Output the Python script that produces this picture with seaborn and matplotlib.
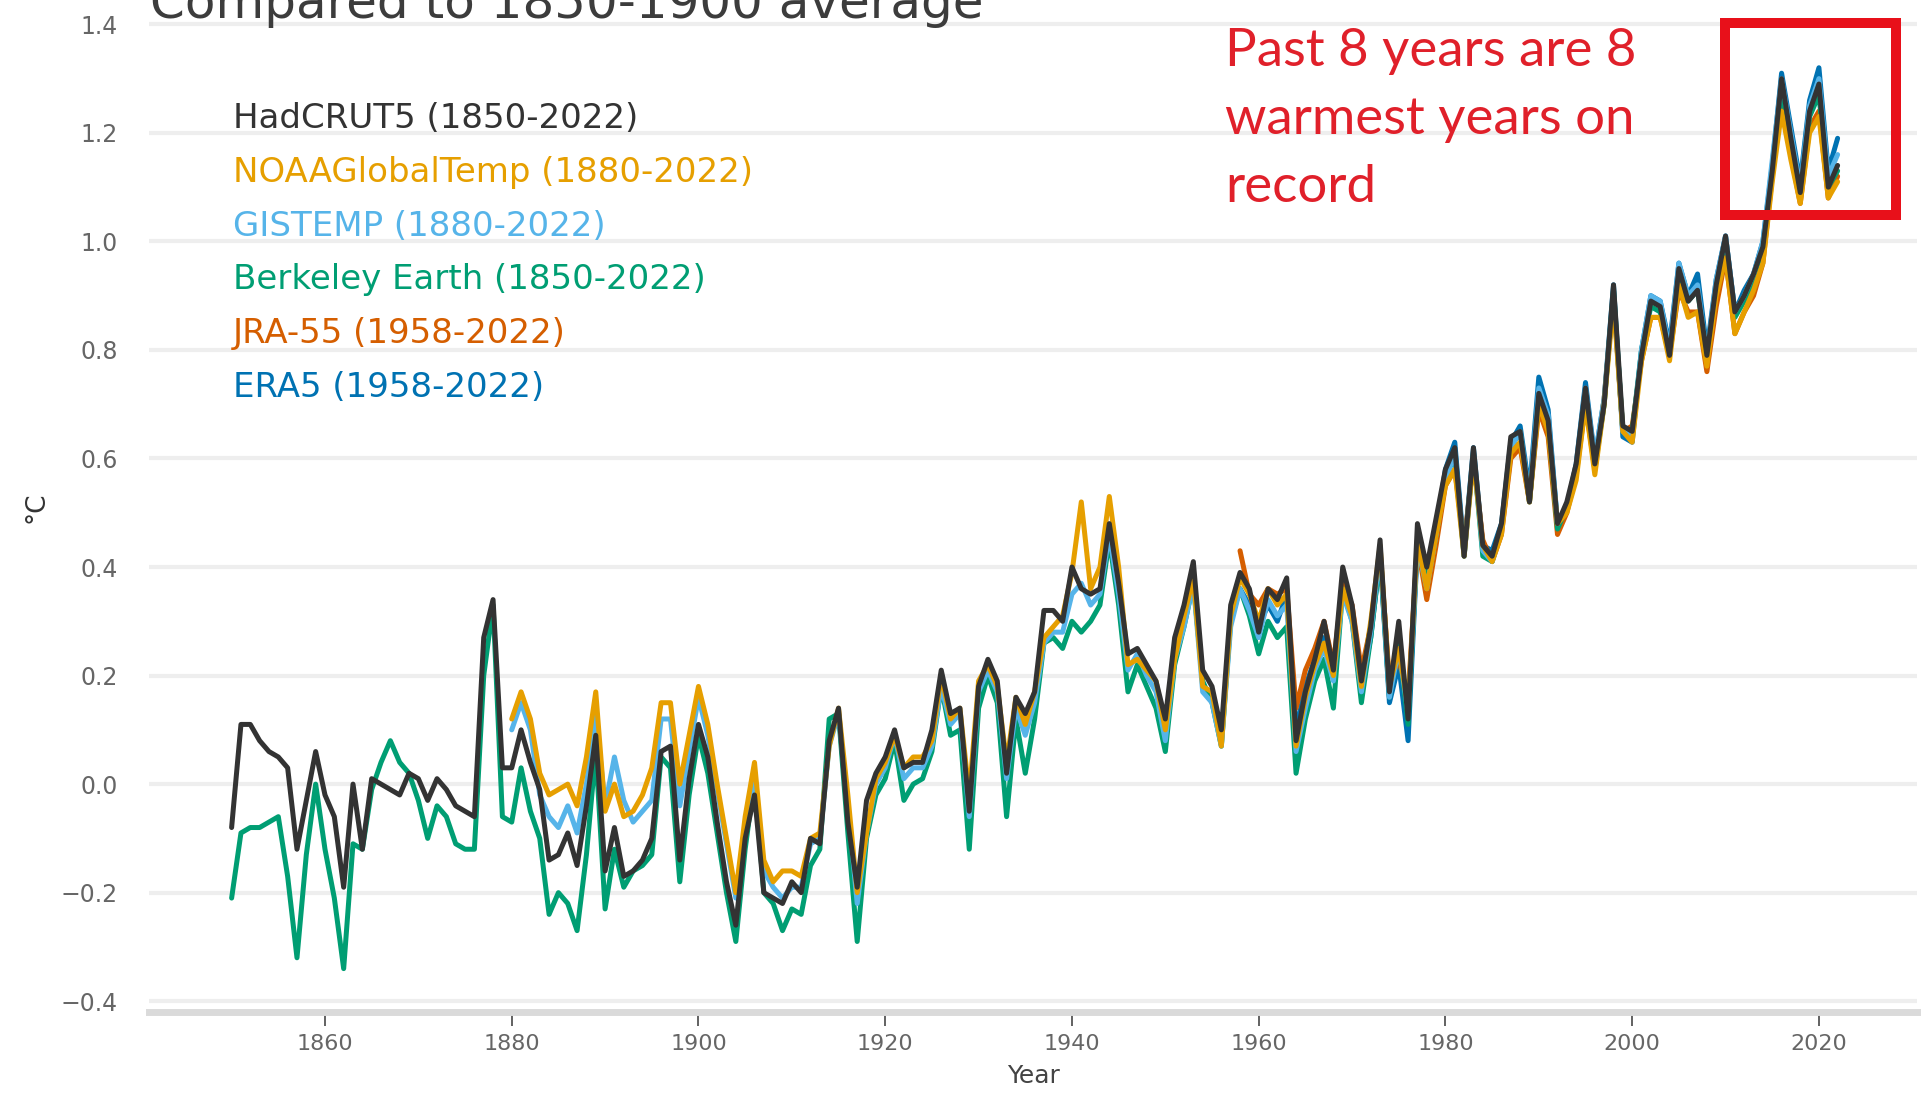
import numpy as np
import pandas as pd
import seaborn as sns
import matplotlib.pyplot as plt
from matplotlib.patches import Rectangle
from matplotlib.ticker import MultipleLocator

# annual anomalies (deg C) relative to 1850-1900
years_1850 = list(range(1850, 2023))
years_1880 = list(range(1880, 2023))
years_1958 = list(range(1958, 2023))

hadcrut5 = [
    -0.08, 0.11, 0.11, 0.08, 0.06, 0.05, 0.03, -0.12, -0.03, 0.06,
    -0.02, -0.06, -0.19, 0.00, -0.12, 0.01, 0.00, -0.01, -0.02, 0.02,
    0.01, -0.03, 0.01, -0.01, -0.04, -0.05, -0.06, 0.27, 0.34, 0.03,
    0.03, 0.10, 0.04, -0.01, -0.14, -0.13, -0.09, -0.15, -0.04, 0.09,
    -0.16, -0.08, -0.17, -0.16, -0.14, -0.10, 0.06, 0.07, -0.14, 0.01,
    0.11, 0.05, -0.07, -0.18, -0.26, -0.10, -0.02, -0.20, -0.21, -0.22,
    -0.18, -0.20, -0.10, -0.11, 0.08, 0.14, -0.07, -0.19, -0.03, 0.02,
    0.05, 0.10, 0.03, 0.04, 0.04, 0.10, 0.21, 0.13, 0.14, -0.05,
    0.18, 0.23, 0.19, 0.02, 0.16, 0.13, 0.17, 0.32, 0.32, 0.30,
    0.40, 0.36, 0.35, 0.36, 0.48, 0.37, 0.24, 0.25, 0.22, 0.19,
    0.12, 0.27, 0.33, 0.41, 0.21, 0.18, 0.10, 0.33, 0.39, 0.36,
    0.28, 0.36, 0.34, 0.38, 0.08, 0.17, 0.23, 0.30, 0.21, 0.40,
    0.33, 0.19, 0.29, 0.45, 0.17, 0.30, 0.12, 0.48, 0.40, 0.49,
    0.58, 0.62, 0.42, 0.62, 0.44, 0.42, 0.48, 0.64, 0.65, 0.52,
    0.72, 0.67, 0.48, 0.52, 0.59, 0.73, 0.59, 0.70, 0.92, 0.66,
    0.65, 0.79, 0.89, 0.88, 0.79, 0.95, 0.89, 0.91, 0.79, 0.92,
    1.01, 0.87, 0.90, 0.94, 0.99, 1.13, 1.30, 1.19, 1.09, 1.24,
    1.29, 1.10, 1.14]

berkeley = [
    -0.21, -0.09, -0.08, -0.08, -0.07, -0.06, -0.17, -0.32, -0.13, 0.00,
    -0.12, -0.21, -0.34, -0.11, -0.12, -0.01, 0.04, 0.08, 0.04, 0.02,
    -0.03, -0.10, -0.04, -0.06, -0.11, -0.12, -0.12, 0.20, 0.33, -0.06,
    -0.07, 0.03, -0.05, -0.10, -0.24, -0.20, -0.22, -0.27, -0.13, 0.06,
    -0.23, -0.12, -0.19, -0.16, -0.15, -0.13, 0.05, 0.03, -0.18, -0.02,
    0.09, 0.02, -0.09, -0.20, -0.29, -0.12, 0.01, -0.20, -0.22, -0.27,
    -0.23, -0.24, -0.15, -0.12, 0.12, 0.13, -0.09, -0.29, -0.10, -0.02,
    0.01, 0.08, -0.03, 0.00, 0.01, 0.06, 0.18, 0.09, 0.10, -0.12,
    0.14, 0.20, 0.15, -0.06, 0.12, 0.02, 0.12, 0.26, 0.27, 0.25,
    0.30, 0.28, 0.30, 0.33, 0.45, 0.33, 0.17, 0.22, 0.18, 0.14,
    0.06, 0.22, 0.29, 0.37, 0.19, 0.15, 0.07, 0.30, 0.36, 0.31,
    0.24, 0.30, 0.27, 0.29, 0.02, 0.12, 0.19, 0.23, 0.14, 0.36,
    0.30, 0.15, 0.27, 0.42, 0.16, 0.26, 0.11, 0.45, 0.37, 0.46,
    0.57, 0.60, 0.42, 0.61, 0.42, 0.41, 0.47, 0.62, 0.65, 0.52,
    0.71, 0.66, 0.47, 0.51, 0.58, 0.72, 0.58, 0.70, 0.91, 0.65,
    0.65, 0.80, 0.88, 0.87, 0.79, 0.94, 0.89, 0.91, 0.79, 0.91,
    1.00, 0.86, 0.89, 0.93, 0.99, 1.13, 1.28, 1.18, 1.09, 1.23,
    1.27, 1.10, 1.13]

noaa = [
    0.12, 0.17, 0.12, 0.02, -0.02, -0.01, 0.00, -0.04, 0.05, 0.17,
    -0.05, 0.00, -0.06, -0.05, -0.02, 0.03, 0.15, 0.15, 0.00, 0.09,
    0.18, 0.11, 0.00, -0.10, -0.20, -0.06, 0.04, -0.14, -0.18, -0.16,
    -0.16, -0.17, -0.10, -0.09, 0.07, 0.14, -0.02, -0.20, -0.09, 0.01,
    0.04, 0.09, 0.03, 0.05, 0.05, 0.08, 0.20, 0.12, 0.14, -0.02,
    0.19, 0.22, 0.18, 0.04, 0.16, 0.11, 0.17, 0.27, 0.29, 0.31,
    0.39, 0.52, 0.36, 0.40, 0.53, 0.40, 0.22, 0.23, 0.21, 0.19,
    0.10, 0.23, 0.31, 0.38, 0.18, 0.17, 0.07, 0.31, 0.38, 0.35,
    0.30, 0.36, 0.33, 0.35, 0.07, 0.16, 0.22, 0.26, 0.20, 0.36,
    0.31, 0.18, 0.30, 0.44, 0.18, 0.25, 0.14, 0.45, 0.36, 0.46,
    0.55, 0.58, 0.42, 0.60, 0.44, 0.41, 0.46, 0.61, 0.63, 0.52,
    0.70, 0.65, 0.48, 0.50, 0.56, 0.70, 0.57, 0.70, 0.89, 0.65,
    0.63, 0.78, 0.86, 0.86, 0.78, 0.92, 0.86, 0.87, 0.77, 0.90,
    0.97, 0.83, 0.87, 0.91, 0.96, 1.11, 1.24, 1.15, 1.07, 1.20,
    1.23, 1.08, 1.11]

gistemp = [
    0.10, 0.15, 0.10, -0.02, -0.06, -0.08, -0.04, -0.09, 0.00, 0.13,
    -0.04, 0.05, -0.03, -0.07, -0.05, -0.03, 0.12, 0.12, -0.04, 0.06,
    0.16, 0.09, -0.01, -0.11, -0.21, -0.08, 0.02, -0.16, -0.19, -0.21,
    -0.19, -0.19, -0.11, -0.10, 0.07, 0.13, -0.04, -0.22, -0.09, 0.00,
    0.03, 0.09, 0.01, 0.03, 0.03, 0.07, 0.18, 0.11, 0.13, -0.06,
    0.17, 0.21, 0.17, 0.01, 0.14, 0.09, 0.15, 0.26, 0.28, 0.28,
    0.35, 0.37, 0.33, 0.35, 0.46, 0.35, 0.21, 0.24, 0.20, 0.17,
    0.08, 0.23, 0.29, 0.37, 0.17, 0.15, 0.07, 0.29, 0.36, 0.32,
    0.27, 0.34, 0.31, 0.33, 0.06, 0.14, 0.21, 0.25, 0.19, 0.35,
    0.30, 0.17, 0.28, 0.43, 0.16, 0.25, 0.13, 0.44, 0.36, 0.46,
    0.56, 0.61, 0.42, 0.61, 0.43, 0.41, 0.47, 0.62, 0.65, 0.53,
    0.73, 0.68, 0.48, 0.51, 0.58, 0.73, 0.60, 0.71, 0.90, 0.65,
    0.64, 0.80, 0.90, 0.89, 0.80, 0.96, 0.90, 0.92, 0.79, 0.93,
    1.01, 0.87, 0.90, 0.94, 1.00, 1.15, 1.30, 1.20, 1.10, 1.25,
    1.30, 1.12, 1.16]

jra55 = [
    0.43, 0.35,
    0.33, 0.36, 0.35, 0.36, 0.14, 0.21, 0.25, 0.30, 0.22, 0.37,
    0.33, 0.21, 0.29, 0.43, 0.19, 0.23, 0.16, 0.44, 0.34, 0.44,
    0.55, 0.58, 0.44, 0.60, 0.45, 0.41, 0.46, 0.60, 0.62, 0.52,
    0.69, 0.64, 0.46, 0.50, 0.57, 0.70, 0.58, 0.71, 0.90, 0.65,
    0.66, 0.78, 0.86, 0.86, 0.79, 0.91, 0.87, 0.87, 0.76, 0.88,
    0.97, 0.83, 0.87, 0.90, 0.96, 1.12, 1.27, 1.16, 1.07, 1.21,
    1.24, 1.08, 1.12]

era5 = [
    0.36, 0.33,
    0.29, 0.33, 0.30, 0.35, 0.10, 0.18, 0.23, 0.27, 0.20, 0.36,
    0.31, 0.18, 0.27, 0.42, 0.15, 0.22, 0.08, 0.44, 0.38, 0.47,
    0.58, 0.63, 0.43, 0.62, 0.44, 0.43, 0.48, 0.63, 0.66, 0.54,
    0.75, 0.69, 0.48, 0.51, 0.59, 0.74, 0.60, 0.71, 0.92, 0.64,
    0.63, 0.80, 0.90, 0.89, 0.81, 0.96, 0.90, 0.94, 0.80, 0.93,
    1.01, 0.87, 0.91, 0.94, 1.00, 1.14, 1.31, 1.21, 1.11, 1.26,
    1.32, 1.13, 1.19]

# legend order, colours
labels = ['HadCRUT5 (1850-2022)', 'NOAAGlobalTemp (1880-2022)', 'GISTEMP (1880-2022)',
          'Berkeley Earth (1850-2022)', 'JRA-55 (1958-2022)', 'ERA5 (1958-2022)']
colors = ['#333333', '#E69F00', '#56B4E9', '#009E73', '#D55E00', '#0072B2']
series = [(years_1850, hadcrut5), (years_1880, noaa), (years_1880, gistemp),
          (years_1850, berkeley), (years_1958, jra55), (years_1958, era5)]
draw_order = [5, 4, 3, 2, 1, 0]

sns.set_theme(style='white')
plt.rcParams['font.family'] = ['DejaVu Sans']

fig = plt.figure(figsize=(19.21, 10.96), dpi=100)
ax = fig.add_axes([0.0778, 0.0766, 0.9201, 0.9210])

lines = {}
for i in draw_order:
    yrs, vals = series[i]
    df = pd.DataFrame({'Year': yrs, 'Anomaly': vals})
    sns.lineplot(data=df, x='Year', y='Anomaly', color=colors[i], linewidth=3.6,
                 label=labels[i], ax=ax)
    lines[i] = ax.lines[-1]

leg = ax.legend([lines[i] for i in range(6)], labels, loc='upper left',
                bbox_to_anchor=(233 / 1921, 1 - 102 / 1096), bbox_transform=fig.transFigure,
                frameon=False, handlelength=0, handletextpad=0, borderpad=0,
                borderaxespad=0, labelspacing=0.61, fontsize=24.5, labelcolor='linecolor')
for h in leg.legend_handles:
    h.set_visible(False)

ax.set_xlim(1841.2, 2030.5)
ax.set_ylim(-0.42, 1.44)
ax.yaxis.set_major_locator(MultipleLocator(0.2))
ax.set_xticks(range(1860, 2021, 20))

ax.yaxis.grid(True, color='#eeeeee', linewidth=3)
ax.xaxis.grid(False)
for s in ['top', 'right', 'left']:
    ax.spines[s].set_visible(False)
ax.spines['bottom'].set_color('#dadada')
ax.spines['bottom'].set_linewidth(5)

ax.tick_params(axis='x', which='major', bottom=True, direction='out', length=10, width=1.3,
               color='#555555', pad=6, labelsize=16, labelcolor='#666666')
ax.tick_params(axis='y', left=False, pad=17, labelsize=17, labelcolor='#666666')

ax.set_xlabel('Year', fontsize=18, color='#444444')
ax.xaxis.set_label_coords(0.5, -0.0634)
ax.xaxis.label.set_va('center')
ax.set_ylabel('°C', fontsize=19, color='#333333')
ax.yaxis.set_label_coords(-0.0637, 0.5)
ax.yaxis.label.set_va('center')

fig.text(149.5 / 1921, 1 - 18 / 1096, 'Compared to 1850-1900 average', fontsize=36,
         color='#3c3c3c', ha='left', va='baseline')

fig.text(1225 / 1921, 1 - 28 / 1096, 'Past 8 years are 8\nwarmest years on\nrecord',
         fontsize=38, family=['Lato', 'DejaVu Sans'], color='#e0202a', ha='left', va='top',
         linespacing=1.55)

ax.add_patch(Rectangle((2009.9, 1.048), 18.4, 0.354, fill=False, edgecolor='#e8101a',
                       linewidth=7.2, joinstyle='miter', clip_on=False, zorder=5))

plt.savefig('out.png', dpi=100)
